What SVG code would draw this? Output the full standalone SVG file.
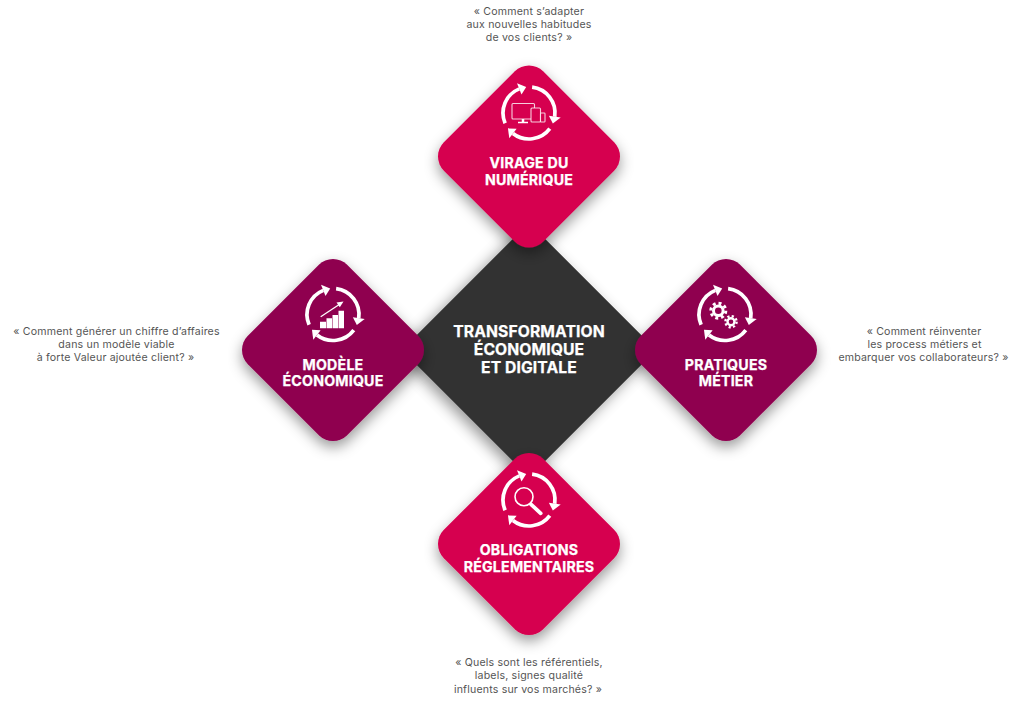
<svg xmlns="http://www.w3.org/2000/svg" width="1024" height="709" viewBox="0 0 1024 709">
<style>
.q{font-family:"Inter","Liberation Sans",sans-serif;font-size:10.6px;fill:#555;text-anchor:middle;letter-spacing:.18px}
.l{font-family:"Inter","Liberation Sans",sans-serif;font-size:14.2px;font-weight:700;fill:#fff;text-anchor:middle;stroke:#fff;stroke-width:.25px;letter-spacing:.2px}
.c{font-size:15.7px;letter-spacing:.1px}
.crim{fill:#d6004f}.plum{fill:#8f0050}.dark{fill:#333}
.thin{fill:none;stroke:#fff;stroke-width:1.1;opacity:.8}
</style>
<defs>
<filter id="sh" x="-30%" y="-30%" width="160%" height="170%"><feDropShadow dx="0" dy="6" stdDeviation="7" flood-color="#000" flood-opacity=".4"/></filter>
<rect id="d" x="-70.2" y="-70.2" width="140.4" height="140.4" rx="20" transform="rotate(45)"/>
<g id="seg"><path d="M-23.9 10.2A26 26 0 0 1-9.700-24.100" fill="none" stroke="#fff" stroke-width="3.700"/><path d="M-2.800-25.900L-7.500-18.600L-12-29.700Z" fill="#fff"/></g>
<g id="cycle"><use href="#seg"/><use href="#seg" transform="rotate(120)"/><use href="#seg" transform="rotate(240)"/></g>
</defs>
<rect width="1024" height="709" fill="#fff"/>
<g id="connectors"></g>
<g id="centre"><rect class="dark" x="-90" y="-90" width="180" height="180" rx="6" transform="translate(529 350) rotate(45)" filter="url(#sh)"/>
<text class="l c" x="529" y="337">TRANSFORMATION</text><text class="l c" x="529" y="355">ÉCONOMIQUE</text><text class="l c" x="529" y="373">ET DIGITALE</text></g>
<g id="modele"><use href="#d" class="plum" transform="translate(333 350)" filter="url(#sh)"/>
<use href="#cycle" transform="translate(333 314.500)"/>
<path fill="#fff" d="M320 321.700h6v6.600h-6zM326.500 318.300h5.500v10h-5.500zM332.500 315h5.500v13.300h-5.500zM338.500 310.700h5.500v17.600h-5.500z"/>
<path d="M320.700 316.700L340 304" stroke="#fff" stroke-width="1.300" fill="none"/><path d="M343.500 301.500L336.500 302.500L339.800 307.300Z" fill="#fff"/>
<text class="l" x="333" y="369.500">MODÈLE</text><text class="l" x="333" y="386">ÉCONOMIQUE</text></g>
<g id="pratiques"><use href="#d" class="plum" transform="translate(726 350)" filter="url(#sh)"/>
<use href="#cycle" transform="translate(725 314.500)"/>
<g fill="none" stroke="#fff"><circle cx="718.300" cy="310.700" r="4.800" stroke-width="3"/><circle cx="718.300" cy="310.700" r="7.500" stroke-width="3" stroke-dasharray="2.950 2.940"/><circle cx="731" cy="321.700" r="3.500" stroke-width="2.400"/><circle cx="731" cy="321.700" r="5.600" stroke-width="2.400" stroke-dasharray="2.200 2.200"/></g>
<text class="l" x="726" y="369.500">PRATIQUES</text><text class="l" x="726" y="386">MÉTIER</text></g>
<g id="obligations"><use href="#d" class="crim" transform="translate(529 544)" filter="url(#sh)"/>
<use href="#cycle" transform="translate(529 500)"/>
<circle cx="524" cy="496.700" r="9" fill="none" stroke="#fff" stroke-width="1.600"/><path d="M531 504.300L540.700 513.300" stroke="#fff" stroke-width="3.800" stroke-linecap="round"/>
<text class="l" x="529" y="555">OBLIGATIONS</text><text class="l" x="529" y="572">RÉGLEMENTAIRES</text></g>
<g id="virage"><use href="#d" class="crim" transform="translate(529 156.500)" filter="url(#sh)"/>
<use href="#cycle" transform="translate(529 113)"/>
<rect class="thin" x="512" y="103.500" width="22.500" height="15.500" rx="1"/><path d="M523 119v3" stroke="#fff" stroke-width="2.500"/><path d="M518 122.500h10" stroke="#fff" stroke-width="1.500"/>
<rect x="531" y="108" width="9.500" height="14" rx="1" class="crim"/><rect class="thin" x="531" y="108" width="9.500" height="14" rx="1"/>
<rect x="540.500" y="113" width="4.500" height="9" rx=".8" class="crim"/><rect class="thin" x="540.500" y="113" width="4.500" height="9" rx=".8"/>
<text class="l" x="529" y="168">VIRAGE DU</text><text class="l" x="529" y="184.500">NUMÉRIQUE</text></g>
<g id="quotes">
<text class="q" x="529" y="15">« Comment s’adapter</text><text class="q" x="529" y="28">aux nouvelles habitudes</text><text class="q" x="529" y="41">de vos clients? »</text>
<text class="q" x="116.500" y="335">« Comment générer un chiffre d’affaires</text><text class="q" x="116.500" y="348">dans un modèle viable</text><text class="q" x="115.500" y="361">à forte Valeur ajoutée client? »</text>
<text class="q" x="924" y="335">« Comment réinventer</text><text class="q" x="924.500" y="348">les process métiers et</text><text class="q" x="923.500" y="361">embarquer vos collaborateurs? »</text>
<text class="q" x="529" y="666">« Quels sont les référentiels,</text><text class="q" x="529" y="679">labels, signes qualité</text><text class="q" x="528" y="693">influents sur vos marchés? »</text>
</g>
</svg>
